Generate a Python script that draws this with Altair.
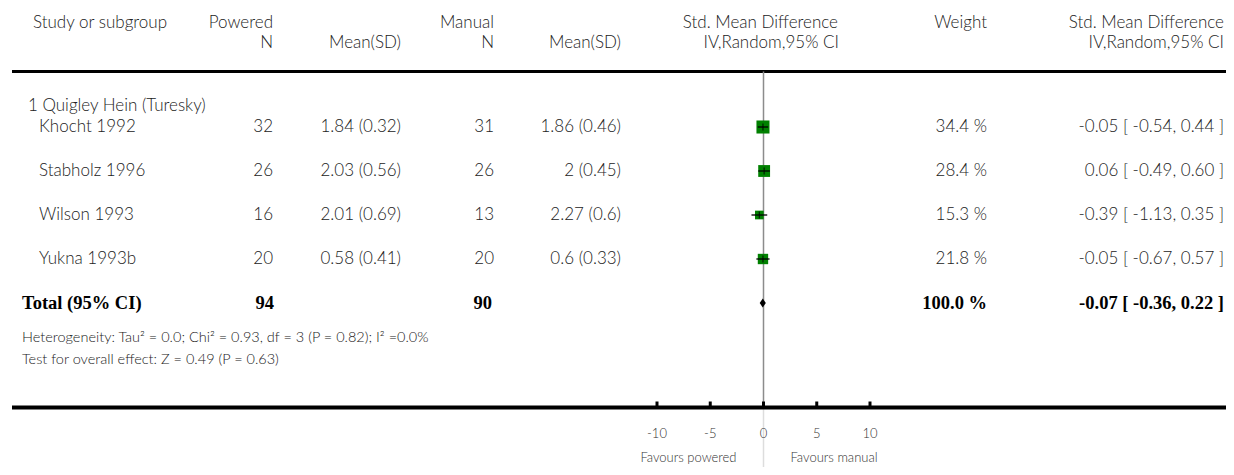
import altair as alt
import pandas as pd

# ---------------- data ----------------
studies = ["Khocht 1992", "Stabholz 1996", "Wilson 1993", "Yukna 1993b"]
pw_n = [32, 26, 16, 20]
pw_mean_sd = ["1.84 (0.32)", "2.03 (0.56)", "2.01 (0.69)", "0.58 (0.41)"]
mn_n = [31, 26, 13, 20]
mn_mean_sd = ["1.86 (0.46)", "2 (0.45)", "2.27 (0.6)", "0.6 (0.33)"]
weights = [34.4, 28.4, 15.3, 21.8]
smd = [-0.05, 0.06, -0.39, -0.05]
ci_lo = [-0.54, -0.49, -1.13, -0.67]
ci_hi = [0.44, 0.60, 0.35, 0.57]

subgroup = "1 Quigley Hein (Turesky)"
total_label = "Total (95% CI)"
total_pw_n = 94
total_mn_n = 90
total_weight = 100.0
total_smd = -0.07
total_lo = -0.36
total_hi = 0.22
heterogeneity = "Heterogeneity: Tau\u00b2 = 0.0; Chi\u00b2 = 0.93, df = 3 (P = 0.82); I\u00b2 =0.0%"
overall = "Test for overall effect: Z = 0.49 (P = 0.63)"
axis_ticks = [-10, -5, 0, 5, 10]
favours_left = "Favours powered"
favours_right = "Favours manual"

header1 = ["Study or subgroup", "Powered", "Manual", "Std. Mean Difference", "Weight", "Std. Mean Difference"]
header2 = ["N", "Mean(SD)", "N", "Mean(SD)", "IV,Random,95% CI", "IV,Random,95% CI"]

# ---------------- layout ----------------
W, H = 1218, 459
X0_PX = 755.5          # pixel of effect 0
PX_PER_UNIT = 10.65
ROW_PX = 44.0
ROW1_PX = 119.0
xscale = alt.Scale(domain=[-X0_PX / PX_PER_UNIT, (W - X0_PX) / PX_PER_UNIT], nice=False, zero=False)
y_top = 1 - ROW1_PX / ROW_PX
y_bot = 1 + (H - ROW1_PX) / ROW_PX
yscale = alt.Scale(domain=[y_top, y_bot], reverse=True, nice=False, zero=False)

def prow(py):
    """row coordinate from a chart pixel offset (layout helper)"""
    return 1 + (py - ROW1_PX) / ROW_PX

R_H1 = prow(15)
R_H2 = prow(34.5)
R_TOP = prow(63.5)
R_SUB = prow(97.5)
R_TOT = 5
R_HET = prow(330)
R_TEST = prow(352)
R_AX = prow(399.5)
R_TICKLAB = prow(426)
R_FAV = prow(450)

FONT = "Lato"
TXT = "#222222"
SERIF = "Liberation Serif"
FS = 17
RIGHT = 1216

rows = list(range(1, len(studies) + 1))
df = pd.DataFrame({
    "row": rows, "study": studies, "pw_n": [str(v) for v in pw_n], "pw_ms": pw_mean_sd,
    "mn_n": [str(v) for v in mn_n], "mn_ms": mn_mean_sd, "weight": weights,
    "wtxt": [f"{w} %" for w in weights], "smd": smd, "lo": ci_lo, "hi": ci_hi,
    "citxt": [f"{s:.2f} [ {l:.2f}, {h:.2f} ]" for s, l, h in zip(smd, ci_lo, ci_hi)],
})

Y = lambda f="row": alt.Y(f"{f}:Q", scale=yscale, axis=None)

def text_layer(data, field, xpx, align, size=FS, font=FONT, weight=300, color=TXT):
    return alt.Chart(data).mark_text(
        align=align, baseline="middle", font=font, fontSize=size, fontWeight=weight, color=color
    ).encode(x=alt.value(xpx), y=Y(), text=f"{field}:N")

layers = []

# header rows
h1 = pd.DataFrame({"row": [R_H1] * 6, "t": header1})
h2 = pd.DataFrame({"row": [R_H2] * 6, "t": header2})
h1_x = [(25, "left"), (265, "right"), (486, "right"), (830, "right"), (979, "right"), (RIGHT, "right")]
h2_x = [(265, "right"), (393, "right"), (486, "right"), (613, "right"), (831, "right"), (RIGHT, "right")]
for i, (xp, al) in enumerate(h1_x):
    layers.append(text_layer(h1.iloc[[i]], "t", xp, al))
for i, (xp, al) in enumerate(h2_x):
    layers.append(text_layer(h2.iloc[[i]], "t", xp, al))

# top thick rule
layers.append(alt.Chart(pd.DataFrame({"row": [R_TOP]})).mark_rule(color="black", strokeWidth=3.2)
              .encode(x=alt.value(4), x2=alt.value(1218), y=Y()))

# zero line
zl = pd.DataFrame({"x": [0], "r1": [R_TOP], "r2": [R_AX]})
layers.append(alt.Chart(zl).mark_rule(color="#8c8c8c", strokeWidth=1.5)
              .encode(x=alt.X("x:Q", scale=xscale, axis=None), y=Y("r1"), y2="r2"))
zl2 = pd.DataFrame({"x": [0], "r1": [R_AX], "r2": [y_bot]})
layers.append(alt.Chart(zl2).mark_rule(color="#dddddd", strokeWidth=1.5)
              .encode(x=alt.X("x:Q", scale=xscale, axis=None), y=Y("r1"), y2="r2"))

# subgroup
layers.append(text_layer(pd.DataFrame({"row": [R_SUB], "t": [subgroup]}), "t", 20, "left"))

# study table
layers.append(text_layer(df, "study", 31, "left"))
layers.append(text_layer(df, "pw_n", 265, "right"))
layers.append(text_layer(df, "pw_ms", 393, "right"))
layers.append(text_layer(df, "mn_n", 486, "right"))
layers.append(text_layer(df, "mn_ms", 613, "right"))
layers.append(text_layer(df, "wtxt", 979, "right"))
layers.append(text_layer(df, "citxt", RIGHT, "right"))

# forest marks
X = lambda f: alt.X(f"{f}:Q", scale=xscale, axis=None)
layers.append(alt.Chart(df).mark_square(color="#008000", opacity=1)
              .encode(x=X("smd"), y=Y(),
                      size=alt.Size("weight:Q", scale=alt.Scale(domain=[0, max(weights)], range=[0, 170]), legend=None)))
layers.append(alt.Chart(df).mark_rule(color="black", strokeWidth=1.3)
              .encode(x=X("lo"), x2="hi", y=Y()))
layers.append(alt.Chart(df).mark_tick(color="black", orient="vertical", size=7, thickness=1.3)
              .encode(x=X("smd"), y=Y()))

# total row
dh = 4.5 / ROW_PX
dia = pd.DataFrame({"x": [total_lo, total_smd, total_hi],
                    "y1": [R_TOT, R_TOT - dh, R_TOT], "y2": [R_TOT, R_TOT + dh, R_TOT]})
layers.append(alt.Chart(dia).mark_area(color="black", orient="vertical")
              .encode(x=X("x"), y=Y("y1"), y2="y2"))
tot = pd.DataFrame({"row": [R_TOT], "lab": [total_label], "pn": [str(total_pw_n)], "mn": [str(total_mn_n)],
                    "w": [f"{total_weight:.1f} %"],
                    "ci": [f"{total_smd:.2f} [ {total_lo:.2f}, {total_hi:.2f} ]"]})
BS = 18.5
layers.append(text_layer(tot, "lab", 14, "left", size=BS, font=SERIF, weight="bold", color="black"))
layers.append(text_layer(tot, "pn", 266, "right", size=BS, font=SERIF, weight="bold", color="black"))
layers.append(text_layer(tot, "mn", 484, "right", size=BS, font=SERIF, weight="bold", color="black"))
layers.append(text_layer(tot, "w", 979, "right", size=BS, font=SERIF, weight="bold", color="black"))
layers.append(text_layer(tot, "ci", RIGHT, "right", size=BS, font=SERIF, weight="bold", color="black"))

# heterogeneity / overall
layers.append(text_layer(pd.DataFrame({"row": [R_HET], "t": [heterogeneity]}), "t", 14, "left", size=14.5))
layers.append(text_layer(pd.DataFrame({"row": [R_TEST], "t": [overall]}), "t", 14, "left", size=14.5))

# bottom axis
layers.append(alt.Chart(pd.DataFrame({"row": [R_AX]})).mark_rule(color="black", strokeWidth=3.8)
              .encode(x=alt.value(4), x2=alt.value(1218), y=Y()))
tk = pd.DataFrame({"v": axis_ticks, "r1": [R_AX] * 5, "r2": [R_AX - 6 / ROW_PX] * 5,
                   "lab": [str(t) for t in axis_ticks], "rl": [R_TICKLAB] * 5})
layers.append(alt.Chart(tk).mark_rule(color="black", strokeWidth=3)
              .encode(x=X("v"), y=Y("r1"), y2="r2"))
layers.append(alt.Chart(tk).mark_text(align="center", baseline="middle", font=FONT, fontSize=13,
                                      fontWeight=300, color="#333333")
              .encode(x=X("v"), y=Y("rl"), text="lab:N"))
fav = pd.DataFrame({"row": [R_FAV, R_FAV], "t": [favours_left, favours_right]})
layers.append(alt.Chart(fav.iloc[[0]]).mark_text(align="right", baseline="middle", font=FONT, fontSize=13,
                                                 fontWeight=300, color="#333333")
              .encode(x=alt.value(X0_PX - 27), y=Y(), text="t:N"))
layers.append(alt.Chart(fav.iloc[[1]]).mark_text(align="left", baseline="middle", font=FONT, fontSize=13,
                                                 fontWeight=300, color="#333333")
              .encode(x=alt.value(X0_PX + 27), y=Y(), text="t:N"))

chart = alt.layer(*layers).properties(
    width=W, height=H, padding=0, autosize=alt.AutoSizeParams(type="none")
).configure(background="white").configure_view(stroke=None)

chart.save("out.html", embed_options={"renderer": "svg", "actions": False})
